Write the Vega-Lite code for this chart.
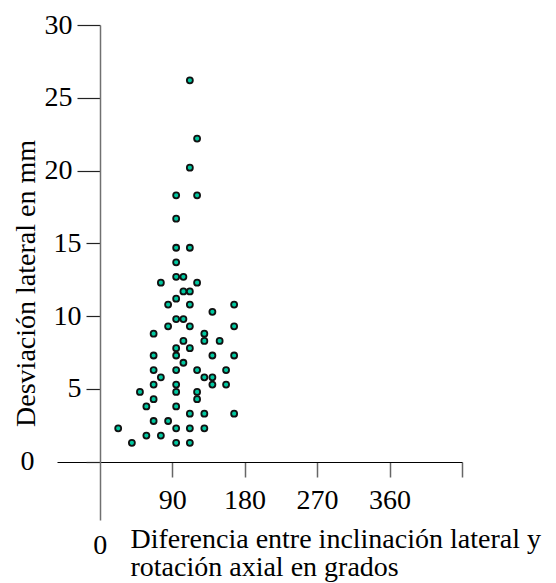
{
  "$schema": "https://vega.github.io/schema/vega-lite/v6.json",
  "width": 405,
  "height": 495,
  "autosize": {"type": "none"},
  "padding": {"left": 57, "top": 25, "right": 94, "bottom": 63},
  "background": "white",
  "config": {"view": {"stroke": null}, "axis": {"grid": false}, "font": "Liberation Serif"},
  "data": {"values": [
    {"dif": 112, "desv": 26.2},
    {"dif": 121, "desv": 22.2},
    {"dif": 112, "desv": 20.2},
    {"dif": 95, "desv": 18.3}, {"dif": 121, "desv": 18.3},
    {"dif": 95, "desv": 16.7},
    {"dif": 95, "desv": 14.7}, {"dif": 112, "desv": 14.7},
    {"dif": 95, "desv": 13.7},
    {"dif": 95, "desv": 12.7}, {"dif": 104, "desv": 12.7},
    {"dif": 76, "desv": 12.3}, {"dif": 121, "desv": 12.3},
    {"dif": 104, "desv": 11.7}, {"dif": 112, "desv": 11.7},
    {"dif": 95, "desv": 11.2},
    {"dif": 85, "desv": 10.8}, {"dif": 112, "desv": 10.8}, {"dif": 167, "desv": 10.8},
    {"dif": 140, "desv": 10.3},
    {"dif": 95, "desv": 9.8}, {"dif": 104, "desv": 9.8},
    {"dif": 85, "desv": 9.3}, {"dif": 112, "desv": 9.3}, {"dif": 167, "desv": 9.3},
    {"dif": 67, "desv": 8.8}, {"dif": 130, "desv": 8.8},
    {"dif": 104, "desv": 8.3}, {"dif": 130, "desv": 8.3}, {"dif": 149, "desv": 8.3},
    {"dif": 95, "desv": 7.8}, {"dif": 112, "desv": 7.8},
    {"dif": 67, "desv": 7.3}, {"dif": 95, "desv": 7.3}, {"dif": 140, "desv": 7.3}, {"dif": 167, "desv": 7.3},
    {"dif": 104, "desv": 6.8},
    {"dif": 67, "desv": 6.3}, {"dif": 95, "desv": 6.3}, {"dif": 121, "desv": 6.3}, {"dif": 157, "desv": 6.3},
    {"dif": 76, "desv": 5.8}, {"dif": 130, "desv": 5.8}, {"dif": 140, "desv": 5.8},
    {"dif": 67, "desv": 5.3}, {"dif": 95, "desv": 5.3}, {"dif": 140, "desv": 5.3}, {"dif": 157, "desv": 5.3},
    {"dif": 50, "desv": 4.8}, {"dif": 95, "desv": 4.8}, {"dif": 121, "desv": 4.8},
    {"dif": 67, "desv": 4.3}, {"dif": 121, "desv": 4.3},
    {"dif": 58, "desv": 3.8}, {"dif": 95, "desv": 3.8},
    {"dif": 112, "desv": 3.3}, {"dif": 130, "desv": 3.3}, {"dif": 167, "desv": 3.3},
    {"dif": 67, "desv": 2.8}, {"dif": 85, "desv": 2.8},
    {"dif": 23, "desv": 2.3}, {"dif": 95, "desv": 2.3}, {"dif": 112, "desv": 2.3}, {"dif": 130, "desv": 2.3},
    {"dif": 58, "desv": 1.8}, {"dif": 76, "desv": 1.8},
    {"dif": 40, "desv": 1.3}, {"dif": 95, "desv": 1.3}, {"dif": 112, "desv": 1.3}
  ]},
  "mark": {"type": "point", "filled": true, "fill": "#00c8a0", "stroke": "#111111", "strokeWidth": 1.8, "size": 36, "opacity": 1},
  "encoding": {
    "x": {
      "field": "dif", "type": "quantitative",
      "scale": {"domain": [-53, 450], "nice": false, "zero": false},
      "axis": {
        "orient": "bottom",
        "offset": -58,
        "values": [0, 90, 180, 270, 360, 450],
        "labelExpr": "datum.value == 450 ? '' : datum.label",
        "labelFont": "Liberation Serif",
        "labelFontSize": 28,
        "labelColor": "black",
        "labelFlush": false,
        "labelOverlap": false,
        "labelPadding": {"condition": {"test": "datum.value == 0", "value": 69}, "value": 9},
        "tickSize": {"condition": {"test": "datum.value == 0", "value": 0}, "value": 15},
        "tickColor": "#666666",
        "tickWidth": 1.5,
        "domainColor": "#000000",
        "domainWidth": 1.2,
        "title": ["Diferencia entre inclinación lateral y", "rotación axial en grados"],
        "titleFont": "Liberation Serif",
        "titleFontSize": 28,
        "titleFontWeight": "normal",
        "titleColor": "black",
        "titleAlign": "left",
        "titleBaseline": "alphabetic",
        "titleLineHeight": 28,
        "titleX": 73,
        "titleY": 85
      }
    },
    "y": {
      "field": "desv", "type": "quantitative",
      "scale": {"domain": [-4, 30], "nice": false, "zero": false},
      "axis": {
        "orient": "left",
        "offset": -43,
        "values": [0, 5, 10, 15, 20, 25, 30],
        "labelFont": "Liberation Serif",
        "labelFontSize": 28,
        "labelColor": "black",
        "labelFlush": false,
        "labelOverlap": false,
        "labelPadding": {"condition": {"test": "datum.value == 0", "value": 52}, "value": 5},
        "tickSize": {"condition": {"test": "datum.value >= 20", "value": 23}, "value": 14},
        "tickColor": "#222222",
        "tickWidth": 1.2,
        "domainColor": "#707070",
        "domainWidth": 1.5,
        "title": "Desviación lateral en mm",
        "titleFont": "Liberation Serif",
        "titleFontSize": 28,
        "titleFontWeight": "normal",
        "titleColor": "black",
        "titleAngle": -90,
        "titleAlign": "center",
        "titleBaseline": "alphabetic",
        "titleX": -66,
        "titleY": 258
      }
    }
  }
}
